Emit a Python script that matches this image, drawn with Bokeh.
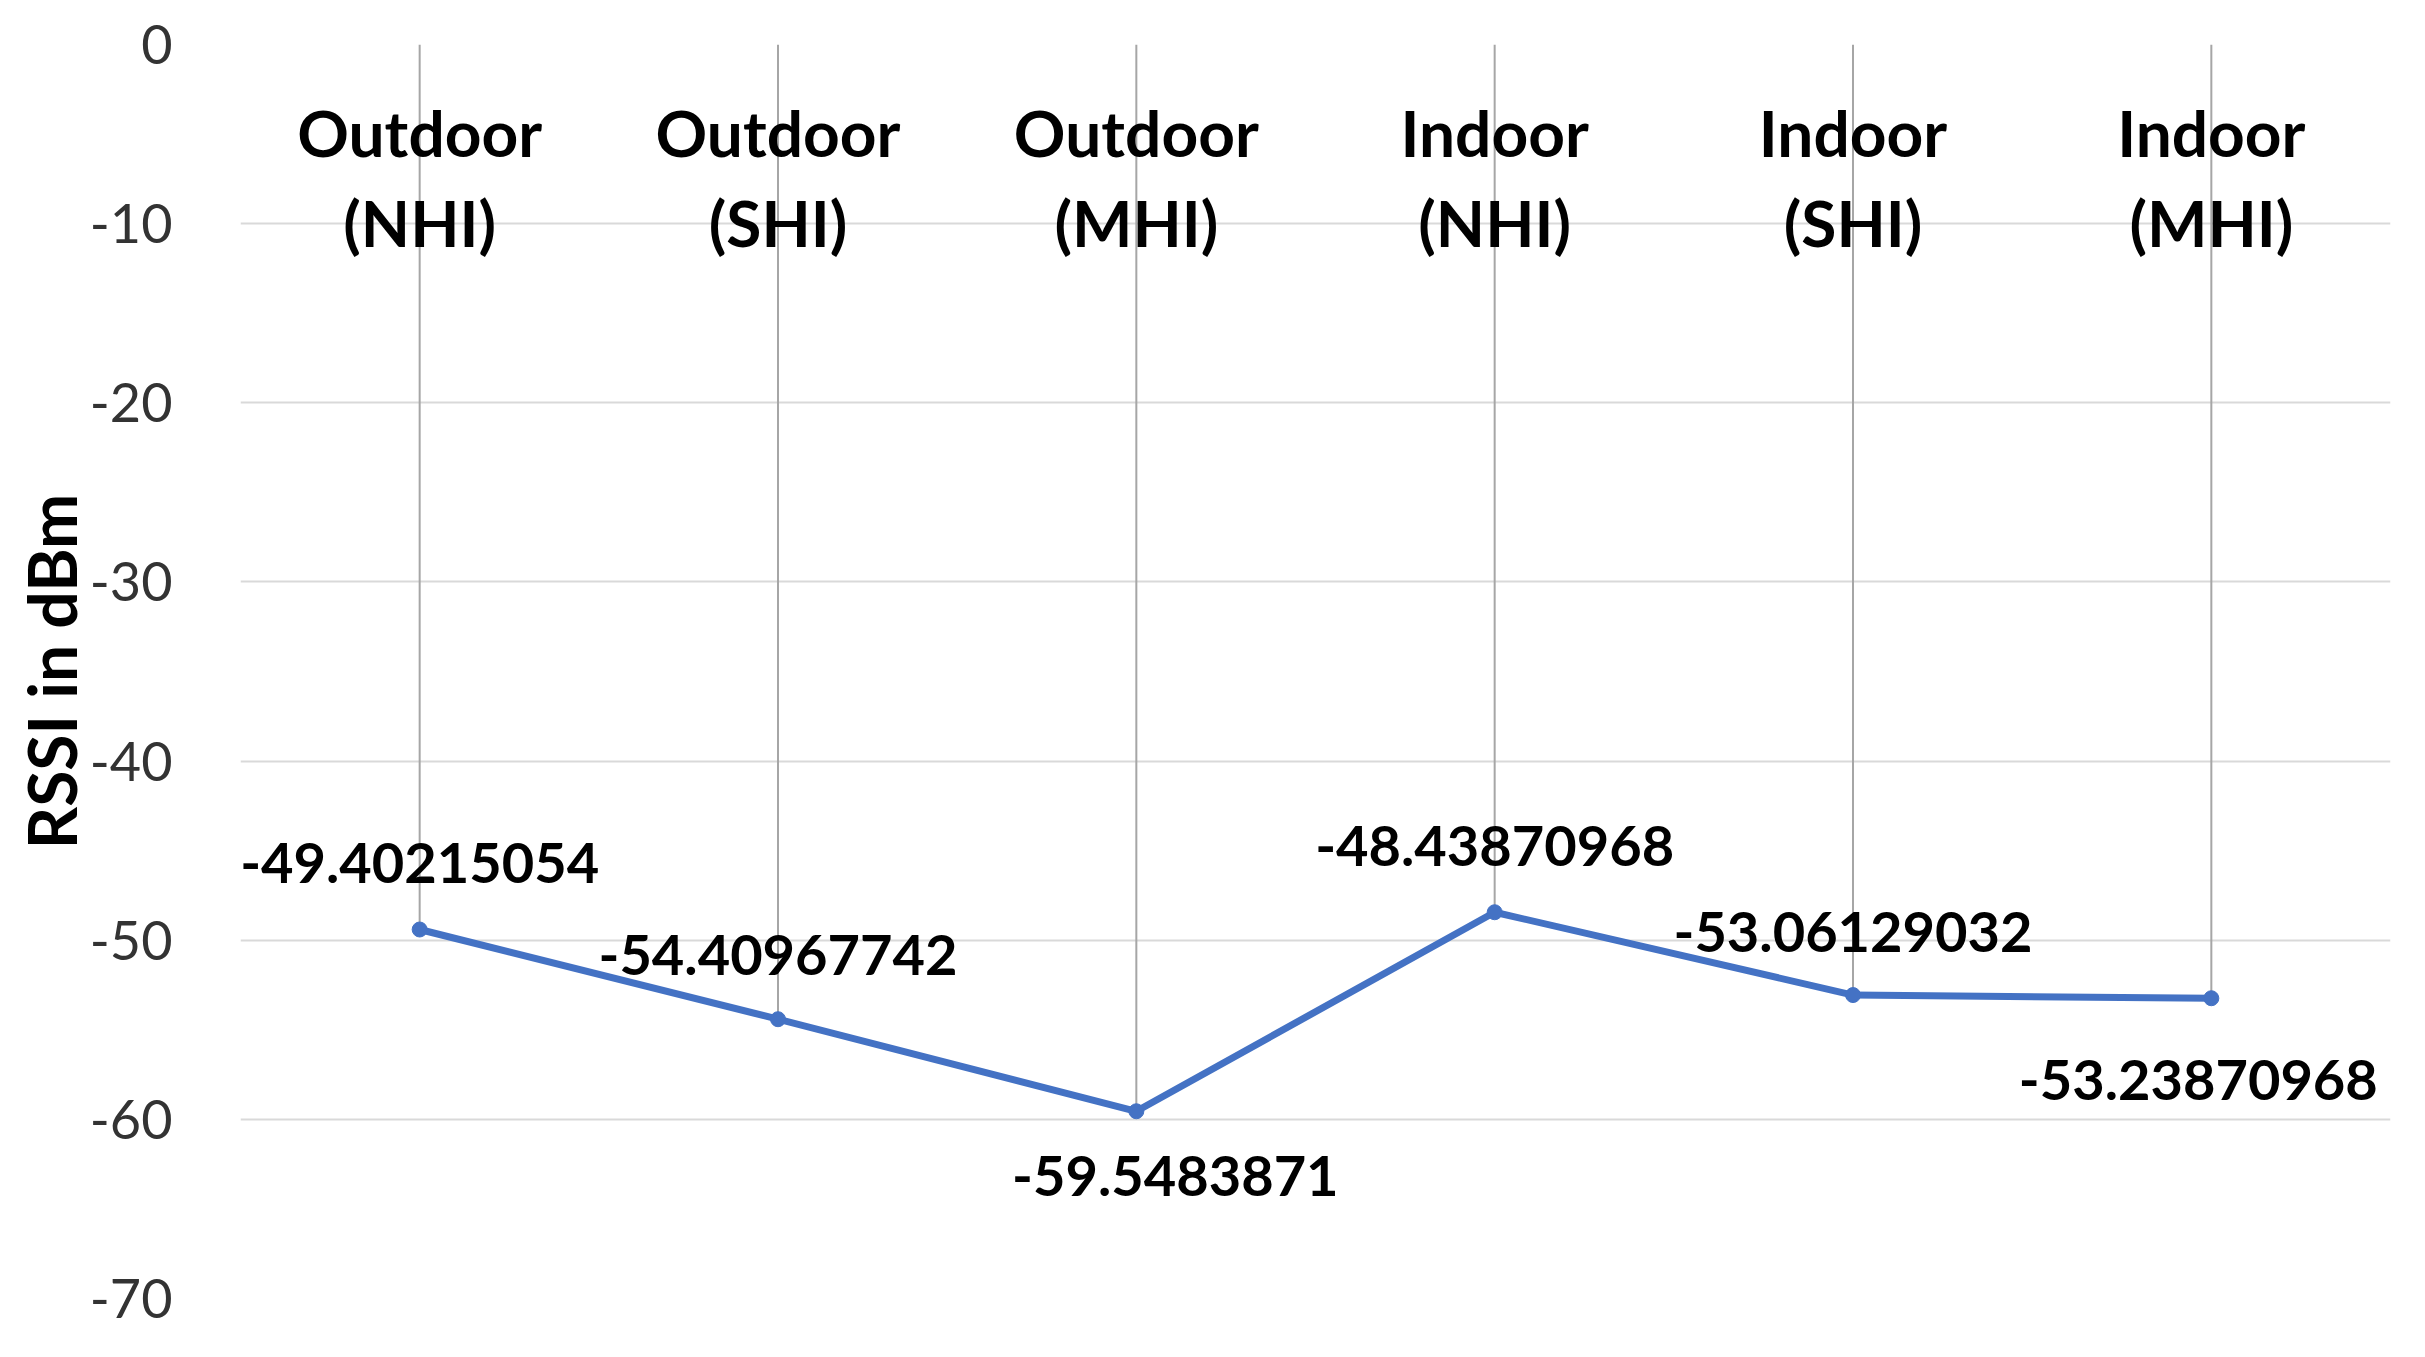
from bokeh.plotting import figure
from bokeh.models import ColumnDataSource, FixedTicker, Range1d
from bokeh.core.properties import value
from bokeh.embed import file_html
from bokeh.resources import INLINE

# ---- data ----
categories = ["Outdoor (NHI)", "Outdoor (SHI)", "Outdoor (MHI)",
              "Indoor (NHI)", "Indoor (SHI)", "Indoor (MHI)"]
rssi = [-49.40215054, -54.40967742, -59.5483871,
        -48.43870968, -53.06129032, -53.23870968]
value_labels = ["-49.40215054", "-54.40967742", "-59.5483871",
                "-48.43870968", "-53.06129032", "-53.23870968"]
y_ticks = [0, -10, -20, -30, -40, -50, -60, -70]
y_title = "RSSI in dBm"

# label placement (screen pixels, relative to each point)
label_dx = [0, 0, 39, 0, 0, -13]
label_dy = [-67, -64, 65, -66, -63, 82]

FONT = "Lato"
BLUE = "#4472C4"

p = figure(x_range=categories, y_range=Range1d(-70, 0),
           width=2405, height=1333,
           frame_width=2150, frame_height=1254,
           min_border_left=240, min_border_right=15,
           min_border_top=44, min_border_bottom=35,
           output_backend="svg", toolbar_location=None)
p.outline_line_color = None
p.background_fill_color = "white"
p.border_fill_color = "white"

# grid
p.xgrid.visible = False
p.ygrid.grid_line_color = "#d9d9d9"
p.ygrid.grid_line_width = 2

# axes
p.xaxis.visible = False
ya = p.yaxis[0]
ya.ticker = FixedTicker(ticks=y_ticks)
ya.major_label_overrides = {t: str(t) for t in y_ticks}
ya.axis_line_color = None
ya.major_tick_line_color = None
ya.minor_tick_line_color = None
ya.major_label_text_font = FONT
ya.major_label_text_font_size = "54px"
ya.major_label_text_color = "#333333"
ya.major_label_standoff = 62
ya.axis_label = y_title
ya.axis_label_text_font = FONT
ya.axis_label_text_font_size = "66px"
ya.axis_label_text_font_style = "bold"
ya.axis_label_text_color = "black"
ya.axis_label_standoff = -4

src = ColumnDataSource(dict(
    x=categories, y=rssi, zero=[0] * len(rssi),
    lab=value_labels, dx=label_dx, dy=label_dy,
    top=[c.split(" ")[0] for c in categories],
    bot=[c.split(" ")[1] for c in categories],
))

# drop lines from axis (0) down to points
p.segment(x0="x", y0="zero", x1="x", y1="y", source=src,
          line_color="#a6a6a6", line_width=2)

# series
p.line(x="x", y="y", source=src, line_color=BLUE, line_width=7)
p.scatter(x="x", y="y", source=src, size=15, fill_color=BLUE,
          line_color=BLUE)

# category labels (inside plot, below the 0 line)
p.text(x="x", y="zero", text="top", source=src, y_offset=88,
       text_align="center", text_baseline="middle",
       text_font=value(FONT), text_font_style="bold",
       text_font_size="64px", text_color="black")
p.text(x="x", y="zero", text="bot", source=src, y_offset=178,
       text_align="center", text_baseline="middle",
       text_font=value(FONT), text_font_style="bold",
       text_font_size="64px", text_color="black")

# data labels
p.text(x="x", y="y", text="lab", source=src, x_offset="dx", y_offset="dy",
       text_align="center", text_baseline="middle",
       text_font=value(FONT), text_font_style="bold",
       text_font_size="56px", text_color="black")

open("out.html", "w").write(file_html(p, INLINE))
